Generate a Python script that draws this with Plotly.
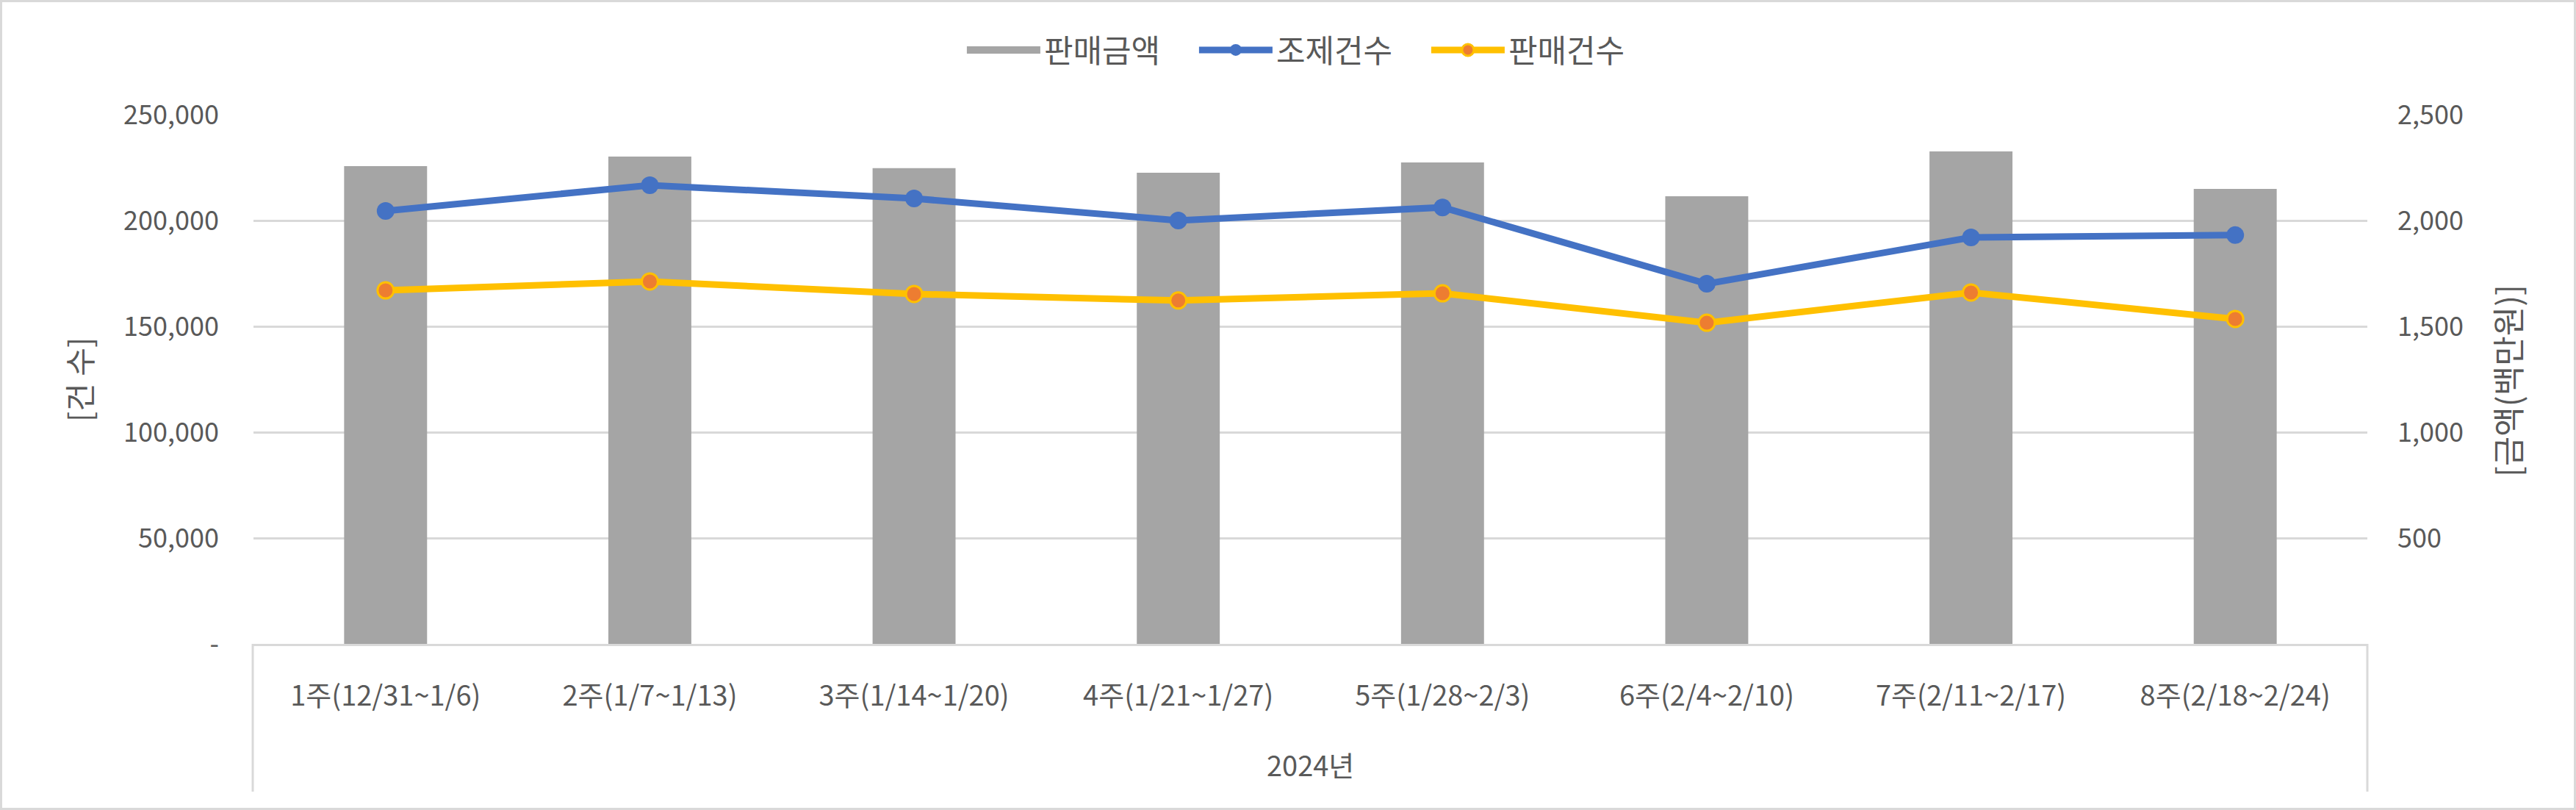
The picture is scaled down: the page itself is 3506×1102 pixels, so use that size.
import plotly.graph_objects as go

# ---- data ----
categories = ["1주(12/31~1/6)", "2주(1/7~1/13)", "3주(1/14~1/20)", "4주(1/21~1/27)",
              "5주(1/28~2/3)", "6주(2/4~2/10)", "7주(2/11~2/17)", "8주(2/18~2/24)"]
group_label = "2024년"
sales_amount = [2257, 2302, 2247, 2226, 2274, 2115, 2326, 2149]          # 판매금액 (백만원)
dispense_count = [204500, 216700, 210400, 200000, 206200, 170100, 192000, 193100]  # 조제건수
sales_count = [167000, 171200, 165300, 162200, 165600, 151700, 166000, 153500]     # 판매건수

left_ticks = [0, 50000, 100000, 150000, 200000, 250000]
left_ticktext = ["-", "50,000", "100,000", "150,000", "200,000", "250,000"]
right_ticks = [0, 500, 1000, 1500, 2000, 2500]
right_ticktext = ["", "500", "1,000", "1,500", "2,000", "2,500"]

# ---- layout geometry (pixels) ----
W, H = 3506, 1102
PL, PR, PT, PB = 345, 3222, 156, 876
pw, ph = PR - PL, PB - PT


def px(x):
    return (x - PL) / pw


def py(y):
    return (PB - y) / ph


FONT = "Noto Sans CJK KR"
TXT = "#595959"
GRID = "#D9D9D9"
BAR = "#A5A5A5"

fig = go.Figure()
fig.add_trace(go.Bar(
    x=categories, y=sales_amount, name="판매금액", yaxis="y", showlegend=False,
    legendgroup="amt", marker=dict(color=BAR, line=dict(width=0)),
))
# legend entry for the bars (wide swatch like the original)
fig.add_trace(go.Scatter(
    x=[None], y=[None], name="판매금액", yaxis="y", mode="lines", legendgroup="amt",
    line=dict(color=BAR, width=22),
))
fig.add_trace(go.Scatter(
    x=categories, y=dispense_count, name="조제건수", yaxis="y2",
    mode="lines+markers",
    line=dict(color="#4472C4", width=9),
    marker=dict(color="#4472C4", size=24, line=dict(color="#4472C4", width=0)),
))
fig.add_trace(go.Scatter(
    x=categories, y=sales_count, name="판매건수", yaxis="y2",
    mode="lines+markers",
    line=dict(color="#FFC000", width=9),
    marker=dict(color="#ED7D31", size=22, line=dict(color="#FFC000", width=3)),
))

shapes = [
    # chart border
    dict(type="rect", xref="paper", yref="paper", x0=px(1.5), x1=px(W - 1.5), y0=py(H - 1.5), y1=py(1.5),
         line=dict(color=GRID, width=3), fillcolor="rgba(0,0,0,0)", layer="below"),
    # category box sides
    dict(type="line", xref="paper", yref="paper", x0=px(PL - 1), x1=px(PL - 1), y0=0, y1=py(1077),
         line=dict(color=GRID, width=3)),
    dict(type="line", xref="paper", yref="paper", x0=1, x1=1, y0=0, y1=py(1077),
         line=dict(color=GRID, width=3)),
]

annotations = [
    dict(text=group_label, xref="paper", yref="paper", x=0.5, y=py(1039), showarrow=False,
         xanchor="center", yanchor="middle", font=dict(family=FONT, size=38, color=TXT)),
    dict(text="[건 수]", xref="paper", yref="paper", x=px(106), y=py(517), showarrow=False,
         textangle=-90, xanchor="center", yanchor="middle", font=dict(family=FONT, size=42, color=TXT)),
    dict(text="[금액(백만원)]", xref="paper", yref="paper", x=px(3412), y=py(518), showarrow=False,
         textangle=-90, xanchor="center", yanchor="middle", font=dict(family=FONT, size=44, color=TXT)),
]

fig.update_layout(
    width=W, height=H, autosize=False,
    margin=dict(l=PL, r=W - PR, t=PT, b=H - PB, pad=0),
    paper_bgcolor="white", plot_bgcolor="white",
    font=dict(family=FONT, size=36, color=TXT),
    bargap=0.686,
    showlegend=True,
    legend=dict(orientation="h", xref="container", yref="container", x=0.5091, y=1 - 68 / H,
                xanchor="center", yanchor="middle", font=dict(family=FONT, size=43, color=TXT),
                itemwidth=100, entrywidth=201, entrywidthmode="pixels",
                traceorder="normal", bgcolor="rgba(0,0,0,0)"),
    xaxis=dict(type="category", showgrid=False, zeroline=False, showline=True,
               linecolor=GRID, linewidth=3, ticks="", ticklabelstandoff=35,
               tickfont=dict(family=FONT, size=38, color=TXT)),
    yaxis=dict(side="right", range=[0, 2500], tickvals=right_ticks, ticktext=right_ticktext,
               showgrid=True, gridcolor=GRID, gridwidth=3, zeroline=False, showline=False,
               ticks="", ticklabelstandoff=40, tickfont=dict(family=FONT, size=36, color=TXT)),
    yaxis2=dict(side="left", overlaying="y", range=[0, 250000], tickvals=left_ticks,
                ticktext=left_ticktext, showgrid=False, zeroline=False, showline=False,
                ticks="", ticklabelstandoff=46, tickfont=dict(family=FONT, size=36, color=TXT)),
    shapes=shapes,
    annotations=annotations,
    hovermode=False,
)

fig.write_html("out.html")
